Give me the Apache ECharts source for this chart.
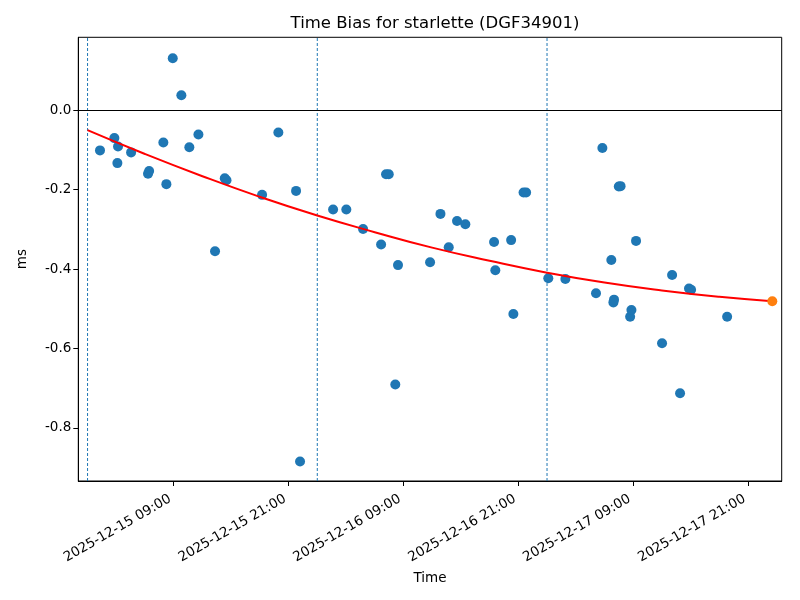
<!DOCTYPE html>
<html>
<head>
<meta charset="utf-8">
<script src="https://cdn.jsdelivr.net/npm/echarts@6/dist/echarts.min.js"></script>
<style>
html,body{margin:0;padding:0;background:#fff;}
#chart{width:800px;height:600px;}
</style>
</head>
<body>
<div id="chart"></div>
<script>
// ---- data ----
const biasTimes = [
  '2025-12-15 01:18','2025-12-15 02:48','2025-12-15 03:07','2025-12-15 03:11','2025-12-15 04:33',
  '2025-12-15 06:19','2025-12-15 06:26','2025-12-15 07:55','2025-12-15 08:14','2025-12-15 08:54',
  '2025-12-15 09:48','2025-12-15 10:38','2025-12-15 11:35','2025-12-15 13:19',
  '2025-12-15 14:20','2025-12-15 14:31','2025-12-15 18:14','2025-12-15 19:56','2025-12-15 21:47',
  '2025-12-15 22:12','2025-12-16 01:39','2025-12-16 03:02','2025-12-16 04:47','2025-12-16 06:40',
  '2025-12-16 07:11','2025-12-16 07:28','2025-12-16 08:09','2025-12-16 08:26','2025-12-16 11:47',
  '2025-12-16 12:52','2025-12-16 13:44','2025-12-16 14:36','2025-12-16 15:28','2025-12-16 18:28',
  '2025-12-16 18:36','2025-12-16 20:15','2025-12-16 20:29','2025-12-16 21:33','2025-12-16 21:49',
  '2025-12-17 00:08','2025-12-17 01:55','2025-12-17 05:07','2025-12-17 05:47','2025-12-17 06:43',
  '2025-12-17 06:56','2025-12-17 07:00','2025-12-17 07:30','2025-12-17 07:41','2025-12-17 08:41',
  '2025-12-17 08:49','2025-12-17 09:18','2025-12-17 12:01','2025-12-17 13:04','2025-12-17 13:54',
  '2025-12-17 14:50','2025-12-17 15:03','2025-12-17 18:49'
];
const biasValues = [
  -0.101,-0.070,-0.133,-0.091,-0.106,
  -0.160,-0.153,-0.081,-0.186,0.131,
  0.038,-0.093,-0.061,-0.355,
  -0.171,-0.176,-0.213,-0.056,-0.203,
  -0.885,-0.250,-0.250,-0.299,-0.338,
  -0.161,-0.161,-0.691,-0.390,-0.383,
  -0.261,-0.345,-0.279,-0.287,-0.332,
  -0.403,-0.327,-0.513,-0.207,-0.207,
  -0.423,-0.425,-0.461,-0.095,-0.377,
  -0.484,-0.477,-0.192,-0.191,-0.520,
  -0.503,-0.329,-0.587,-0.415,-0.713,
  -0.449,-0.452,-0.520
];
const fitTimes = [
  '2025-12-15 00:00','2025-12-15 06:00','2025-12-15 12:00','2025-12-15 18:00',
  '2025-12-16 00:00','2025-12-16 06:00','2025-12-16 12:00','2025-12-16 18:00',
  '2025-12-17 00:00','2025-12-17 06:00','2025-12-17 12:00','2025-12-17 18:00',
  '2025-12-17 23:32'
];
const fitValues = [-0.050,-0.110,-0.166,-0.218,-0.265,-0.307,-0.346,-0.379,-0.409,-0.434,-0.454,-0.470,-0.481];
const lastTimes = ['2025-12-17 23:32'];
const lastValues = [-0.481];
const dayLines = ['2025-12-15 00:00','2025-12-16 00:00','2025-12-17 00:00'];
const xTickLabels = ['2025-12-15 09:00','2025-12-15 21:00','2025-12-16 09:00','2025-12-16 21:00','2025-12-17 09:00','2025-12-17 21:00'];
const yTickValues = [-0.8,-0.6,-0.4,-0.2,0.0];
const xRange = ['2025-12-14 23:02','2025-12-18 00:31'];
const yRange = [-0.934, 0.184];

// ---- helpers ----
function parseUTC(s){
  const [d,t] = s.split(' ');
  const [Y,M,D] = d.split('-').map(Number);
  const [h,m] = t.split(':').map(Number);
  return Date.UTC(Y,M-1,D,h,m);
}
function pad(n){return (n<10?'0':'')+n;}
function fmt(ms){
  const d = new Date(ms);
  return d.getUTCFullYear()+'-'+pad(d.getUTCMonth()+1)+'-'+pad(d.getUTCDate())+' '+pad(d.getUTCHours())+':'+pad(d.getUTCMinutes());
}
const font = 'DejaVu Sans';
const xTicks = xTickLabels.map(parseUTC);

const dayLineSeries = dayLines.map(t => ({
  type:'line',
  data:[[parseUTC(t), yRange[0]],[parseUTC(t), yRange[1]]],
  showSymbol:false, silent:true,
  lineStyle:{color:'#1f77b4', width:1, type:[3,2]},
  z:1
}));

const chart = echarts.init(document.getElementById('chart'), null, {renderer:'canvas'});
chart.setOption({
  animation:false,
  backgroundColor:'#fff',
  title:{
    text:'Time Bias for starlette (DGF34901)',
    left:430, top:10, textAlign:'center',
    textStyle:{fontFamily:font, fontSize:16.5, fontWeight:'normal', color:'#000'}
  },
  grid:{left:78.3, right:18.3, top:37.3, bottom:119, show:true, borderColor:'#000', borderWidth:1, backgroundColor:'transparent'},
  xAxis:{
    type:'value',
    min:parseUTC(xRange[0]), max:parseUTC(xRange[1]),
    name:'Time', nameLocation:'middle', nameGap:89,
    nameTextStyle:{fontFamily:font, fontSize:13.5, color:'#000'},
    axisLine:{show:true, onZero:false, lineStyle:{color:'#000', width:1}},
    axisTick:{show:true, length:5, lineStyle:{color:'#000'}, customValues:xTicks},
    axisLabel:{fontFamily:font, fontSize:13.5, color:'#000', rotate:30, margin:15, padding:[0,4,0,0], customValues:xTicks, formatter:function(v){return fmt(v);}},
    splitLine:{show:false}
  },
  yAxis:{
    type:'value',
    min:yRange[0], max:yRange[1],
    name:'ms', nameLocation:'middle', nameGap:49,
    nameTextStyle:{fontFamily:font, fontSize:13.5, color:'#000'},
    axisLine:{show:true, onZero:false, lineStyle:{color:'#000', width:1}},
    axisTick:{show:true, length:5, lineStyle:{color:'#000'}, customValues:yTickValues},
    axisLabel:{fontFamily:font, fontSize:13.5, color:'#000', margin:7, customValues:yTickValues, formatter:function(v){return v.toFixed(1);}},
    splitLine:{show:false}
  },
  series:[
    ...dayLineSeries,
    {
      type:'scatter',
      data:biasTimes.map((t,i)=>[parseUTC(t), biasValues[i]]),
      symbolSize:10,
      itemStyle:{color:'#1f77b4', opacity:1},
      z:2,
      markLine:{
        silent:true, symbol:['none','none'], label:{show:false}, animation:false,
        data:[
          {yAxis:0, lineStyle:{color:'#000', width:1, type:'solid', opacity:1}}
        ]
      }
    },
    {
      type:'line',
      data:fitTimes.map((t,i)=>[parseUTC(t), fitValues[i]]),
      smooth:true, showSymbol:false,
      lineStyle:{color:'#ff0000', width:2},
      z:3
    },
    {
      type:'scatter',
      data:lastTimes.map((t,i)=>[parseUTC(t), lastValues[i]]),
      symbolSize:10,
      itemStyle:{color:'#ff7f0e', opacity:1},
      z:4
    }
  ]
});
</script>
</body>
</html>
